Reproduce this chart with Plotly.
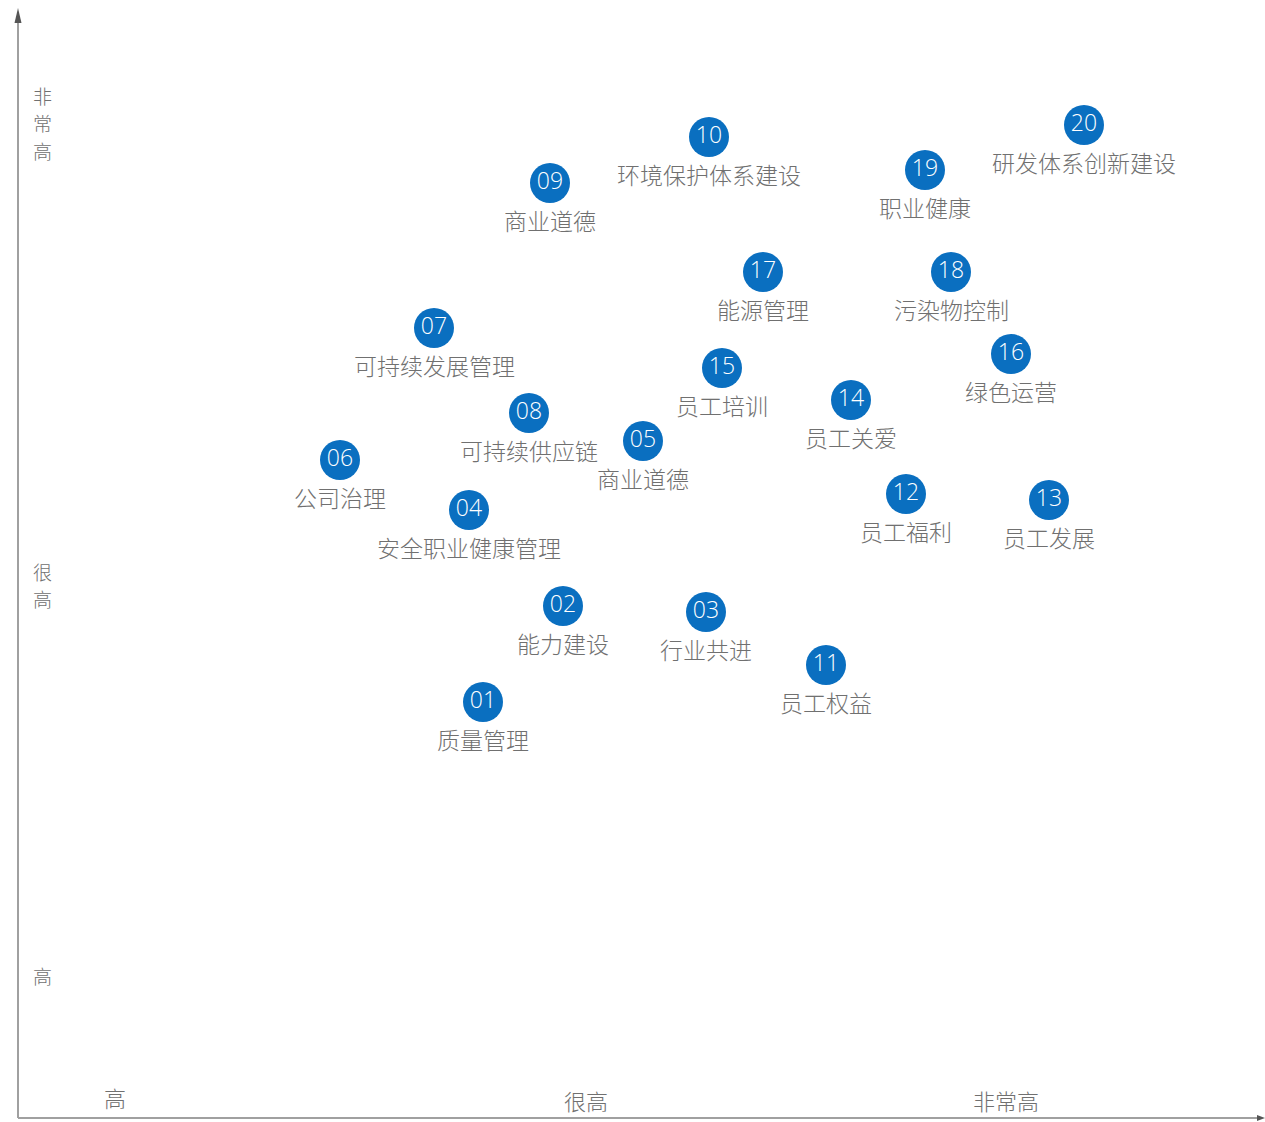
import plotly.graph_objects as go

# Issue matrix data (x: importance to company, y: importance to stakeholders)
ids = ["01", "02", "03", "04", "05", "06", "07", "08", "09", "10",
       "11", "12", "13", "14", "15", "16", "17", "18", "19", "20"]
labels = ["质量管理", "能力建设", "行业共进", "安全职业健康管理", "商业道德", "公司治理",
          "可持续发展管理", "可持续供应链", "商业道德", "环境保护体系建设",
          "员工权益", "员工福利", "员工发展", "员工关爱", "员工培训", "绿色运营",
          "能源管理", "污染物控制", "职业健康", "研发体系创新建设"]
x_vals = [465, 545, 688, 451, 625, 322, 416, 511, 532, 691,
          808, 888, 1031, 833, 704, 993, 745, 933, 907, 1066]
y_vals = [416, 512, 506, 608, 677, 658, 790, 705, 935, 981,
          453, 624, 618, 718, 750, 764, 846, 846, 948, 993]

x_tick_labels = ["高", "很高", "非常高"]
x_tick_pos = [97, 568, 988]
x_tick_y = [21, 18, 18]
y_tick_labels = ["高", "很高", "非常高"]
y_tick_top = [143, 547, 1023]

BLUE = "#0a6fc0"
GREY = "#707070"
AXIS = "#a0a0a0"
HEAD = "#555555"
CJK = "Noto Sans CJK SC"

X_END = 1247
Y_END = 1110

fig = go.Figure()
fig.add_trace(go.Scatter(
    x=x_vals, y=y_vals, mode="markers+text",
    marker=dict(size=40, color=BLUE, line=dict(width=0)),
    text=ids, textposition="middle center",
    textfont=dict(family="Open Sans", size=23, color="white", weight=300),
    hoverinfo="skip", showlegend=False,
))

annotations = []
for xv, yv, lab in zip(x_vals, y_vals, labels):
    annotations.append(dict(x=xv, y=yv, xref="x", yref="y", text=lab, showarrow=False,
                            yshift=-37, font=dict(family=CJK, size=23, color=GREY, weight=300)))

for lab, pos, yy in zip(x_tick_labels, x_tick_pos, x_tick_y):
    annotations.append(dict(x=pos, y=yy, xref="x", yref="y", text=lab, showarrow=False,
                            font=dict(family=CJK, size=22, color=GREY, weight=300)))
for lab, top in zip(y_tick_labels, y_tick_top):
    for i, ch in enumerate(lab):
        annotations.append(dict(x=24, y=top, xref="x", yref="y", text=ch, showarrow=False,
                                yshift=-27.5 * i,
                                font=dict(family=CJK, size=19, color=GREY, weight=300)))

# axis lines with arrow heads
shapes = [
    dict(type="line", xref="x", yref="y", x0=0, y0=0, x1=0, y1=Y_END - 6,
         line=dict(color=AXIS, width=2)),
    dict(type="line", xref="x", yref="y", x0=0, y0=0, x1=X_END - 4, y1=0,
         line=dict(color=AXIS, width=2)),
    dict(type="path", xref="x", yref="y",
         path=f"M -3.5 {Y_END - 15} L 0 {Y_END} L 3.5 {Y_END - 15} Z",
         fillcolor=HEAD, line=dict(width=0)),
    dict(type="path", xref="x", yref="y",
         path=f"M {X_END - 8} -3 L {X_END} 0 L {X_END - 8} 3 Z",
         fillcolor=HEAD, line=dict(width=0)),
]

fig.update_layout(
    width=1265, height=1122,
    margin=dict(l=0, r=0, t=0, b=0),
    paper_bgcolor="white", plot_bgcolor="white",
    xaxis=dict(range=[-18, 1247], visible=False, fixedrange=True),
    yaxis=dict(range=[-4, 1118], visible=False, fixedrange=True),
    annotations=annotations,
    shapes=shapes,
)

fig.write_html("out.html", config={"displayModeBar": False},
               post_script="document.body.style.margin='0';document.body.style.overflow='hidden';")
